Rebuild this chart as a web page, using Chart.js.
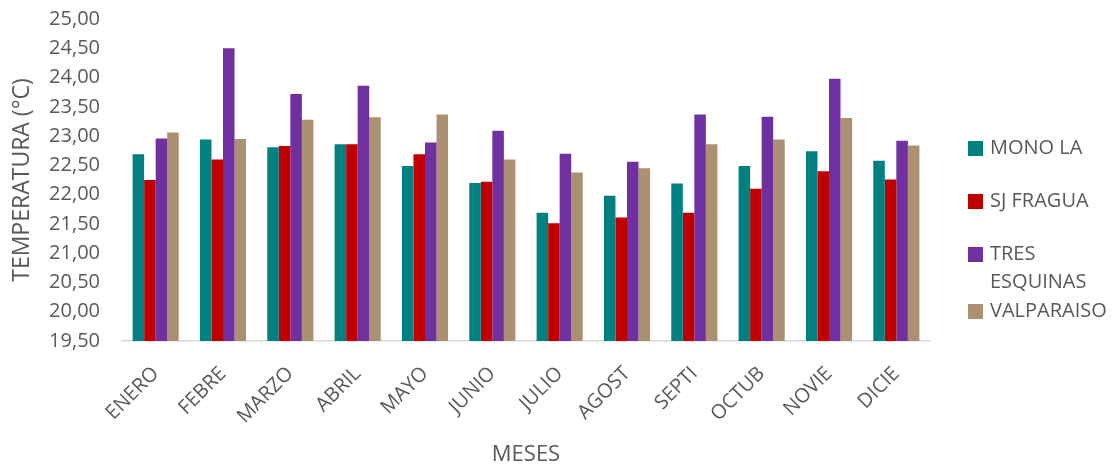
<!DOCTYPE html>
<html>
<head>
<meta charset="utf-8">
<script src="https://cdn.jsdelivr.net/npm/chart.js@4/dist/chart.umd.min.js"></script>
<style>
  html, body { margin: 0; padding: 0; background: #ffffff; }
  #wrap { width: 1112px; height: 464px; }
</style>
</head>
<body>
<div id="wrap"><canvas id="c" width="1112" height="464"></canvas></div>
<script>
// Monthly mean temperatures (°C) per station
const meses = ['ENERO', 'FEBRE', 'MARZO', 'ABRIL', 'MAYO', 'JUNIO', 'JULIO', 'AGOST', 'SEPTI', 'OCTUB', 'NOVIE', 'DICIE'];
const monoLa       = [22.69, 22.94, 22.81, 22.86, 22.49, 22.20, 21.69, 21.98, 22.19, 22.49, 22.74, 22.58];
const sjFragua     = [22.25, 22.60, 22.83, 22.86, 22.69, 22.22, 21.51, 21.61, 21.69, 22.10, 22.40, 22.26];
const tresEsquinas = [22.96, 24.50, 23.72, 23.86, 22.89, 23.09, 22.70, 22.56, 23.37, 23.33, 23.98, 22.92];
const valparaiso   = [23.06, 22.95, 23.28, 23.32, 23.37, 22.60, 22.38, 22.45, 22.86, 22.94, 23.31, 22.84];
const estaciones = ['MONO LA', 'SJ FRAGUA', 'TRES ESQUINAS', 'VALPARAISO'];
const yMin = 19.5, yMax = 25.0, yStep = 0.5;

const colores = ['#008080', '#C00000', '#7030A0', '#AB9171'];
const textColor = '#595959';
const fontFamily = '"Open Sans", "Liberation Sans", sans-serif';

const series = [monoLa, sjFragua, tresEsquinas, valparaiso];
const datasets = series.map((vals, i) => ({
  label: estaciones[i],
  data: vals,
  backgroundColor: colores[i],
  borderWidth: 0,
  categoryPercentage: 0.685,
  barPercentage: 1.0
}));

// Legend drawn to the right of the plot, wrapping long names onto two lines
const sideLegend = {
  id: 'sideLegend',
  afterDraw(chart) {
    const ctx = chart.ctx;
    const area = chart.chartArea;
    const fontSize = 20;
    const lineH = 28.5;
    const slot = 53;
    const maxW = 122;
    const boxX = area.right + 38;
    const box = 15;
    const textX = boxX + box + 7;
    ctx.save();
    ctx.font = fontSize + 'px ' + fontFamily;
    ctx.textBaseline = 'middle';
    ctx.textAlign = 'left';
    let y = area.top + 129;
    chart.data.datasets.forEach((ds) => {
      // word wrap
      const words = ds.label.split(' ');
      const lines = [];
      let cur = '';
      words.forEach(w => {
        const t = cur ? cur + ' ' + w : w;
        if (cur && ctx.measureText(t).width > maxW) { lines.push(cur); cur = w; }
        else cur = t;
      });
      if (cur) lines.push(cur);
      ctx.fillStyle = ds.backgroundColor;
      ctx.fillRect(boxX, Math.round(y - box / 2), box, box);
      ctx.fillStyle = textColor;
      lines.forEach((ln, k) => ctx.fillText(ln, textX, y + k * lineH));
      const lastY = y + (lines.length - 1) * lineH;
      y = Math.max(y + slot, lastY + lineH);
    });
    ctx.restore();
  }
};

new Chart(document.getElementById('c'), {
  type: 'bar',
  data: { labels: meses, datasets },
  plugins: [sideLegend],
  options: {
    responsive: false,
    animation: false,
    devicePixelRatio: 1,
    layout: { padding: { left: 0, right: 182, top: 19, bottom: 0 } },
    plugins: {
      legend: { display: false },
      tooltip: { enabled: false }
    },
    scales: {
      x: {
        afterFit: (scale) => { scale.height = 123; },
        grid: { display: false },
        border: { display: true, color: '#d9d9d9', width: 1.5 },
        ticks: {
          color: textColor,
          font: { family: fontFamily, size: 20 },
          maxRotation: 45,
          minRotation: 45,
          padding: 13
        },
        title: {
          display: true,
          text: 'MESES',
          color: textColor,
          font: { family: fontFamily, size: 22 },
          padding: { top: 3, bottom: -4 }
        }
      },
      y: {
        min: yMin,
        max: yMax,
        afterFit: (scale) => { scale.width = 122; },
        grid: { display: false, tickLength: 20 },
        border: { display: false },
        ticks: {
          stepSize: yStep,
          color: textColor,
          font: { family: fontFamily, size: 20 },
          padding: 2,
          callback: (v) => Number(v).toFixed(2).replace('.', ',')
        },
        title: {
          display: true,
          text: 'TEMPERATURA (°C)',
          color: textColor,
          font: { family: fontFamily, size: 23 },
          padding: { top: 9, bottom: 11 }
        }
      }
    }
  }
});
</script>
</body>
</html>
